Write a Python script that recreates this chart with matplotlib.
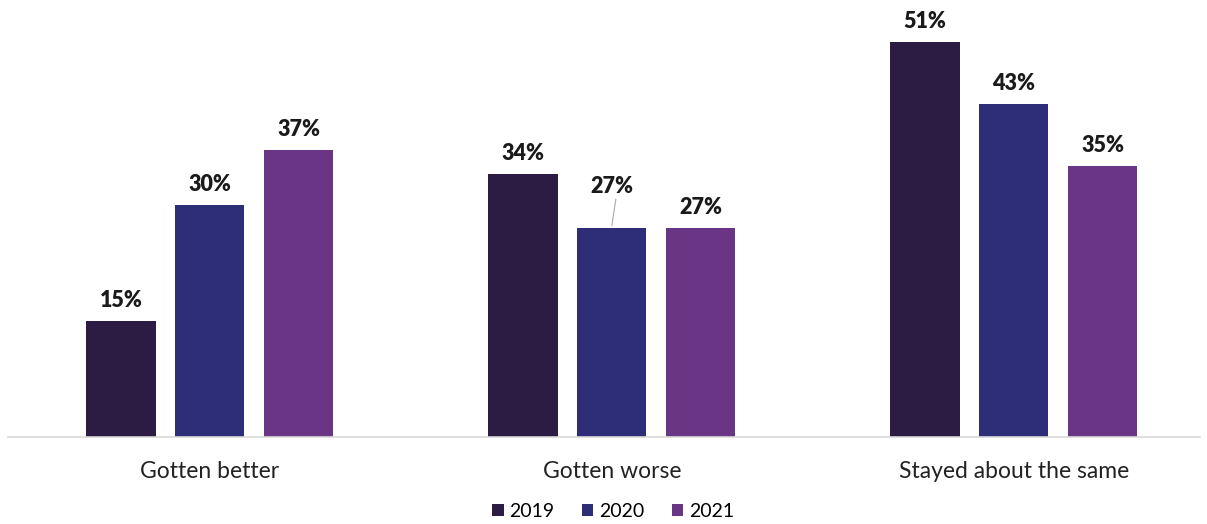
import numpy as np
import matplotlib.pyplot as plt

plt.rcParams['font.family'] = ['Lato', 'DejaVu Sans']

categories = ['Gotten better', 'Gotten worse', 'Stayed about the same']
years = ['2019', '2020', '2021']
values_2019 = [15, 34, 51]
values_2020 = [30, 27, 43]
values_2021 = [37, 27, 35]
colors = ['#2c1c44', '#2e2d78', '#6b3585']

fig = plt.figure(figsize=(12.07, 5.24), dpi=100)
ax = fig.add_axes([8 / 1207, 87 / 524, 1192 / 1207, 417 / 524])

x = np.arange(len(categories))
width = 0.172
offset = 0.221

series = [values_2019, values_2020, values_2021]
for i, (vals, year, c) in enumerate(zip(series, years, colors)):
    pos = x + (i - 1) * offset
    ax.bar(pos, vals, width=width, color=c, label=year)
    for j, (p, v) in enumerate(zip(pos, vals)):
        # 2020 "Gotten worse" label is lifted with a leader line
        if i == 1 and j == 1:
            ax.text(p, v + 4.0, f'{v}%', ha='center', va='bottom',
                    fontsize=15.5, fontweight='heavy', color='#1a1a1a')
            ax.plot([p, p + 0.01], [v + 0.3, v + 3.7], color='#aaaaaa', lw=0.8)
        else:
            ax.text(p, v + 1.3, f'{v}%', ha='center', va='bottom',
                    fontsize=15.5, fontweight='heavy', color='#1a1a1a')

ax.set_xlim(-0.502, 2.463)
ax.set_ylim(0, 53.84)
ax.set_xticks(x)
ax.set_xticklabels(categories, fontsize=16.5, color='#222222')
ax.tick_params(axis='x', length=0, pad=17)
ax.set_yticks([])
for s in ['top', 'right', 'left']:
    ax.spines[s].set_visible(False)
ax.spines['bottom'].set_color('#d9d9d9')
ax.spines['bottom'].set_linewidth(1.2)

fig.legend(loc='lower center', bbox_to_anchor=(0.508, -0.025), ncol=3,
           frameon=False, fontsize=14, handlelength=0.6, handleheight=0.6,
           handletextpad=0.3, columnspacing=1.4)

plt.savefig('out.png', dpi=100)
